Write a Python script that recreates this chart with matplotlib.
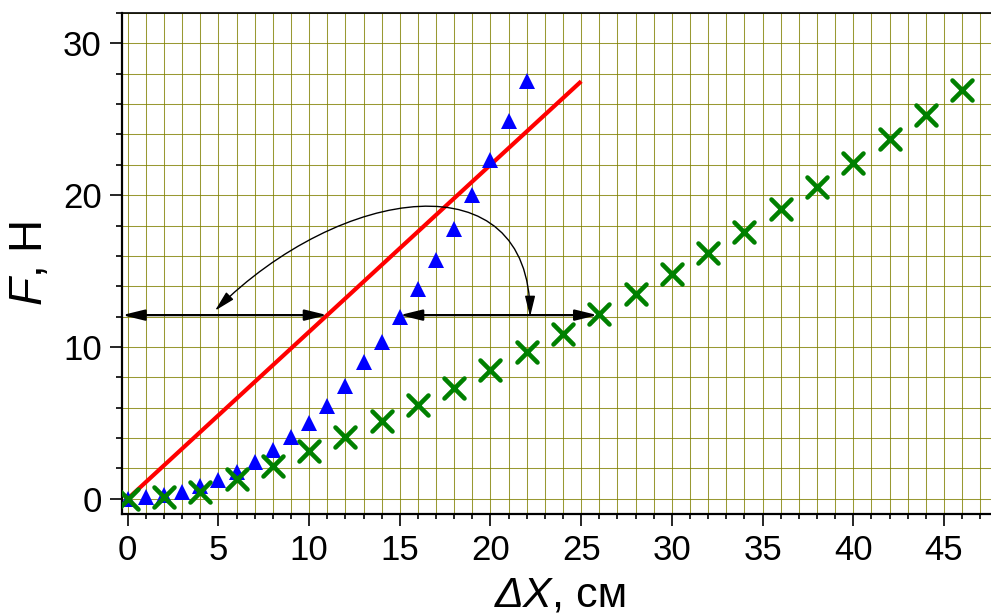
import matplotlib
matplotlib.use("Agg")
import matplotlib.pyplot as plt
import numpy as np
from matplotlib.ticker import MultipleLocator
from matplotlib.markers import MarkerStyle
from matplotlib.patches import FancyArrowPatch
from matplotlib.path import Path

plt.rcParams['font.family'] = ['Liberation Sans', 'DejaVu Sans']
plt.rcParams['mathtext.fontset'] = 'custom'
plt.rcParams['mathtext.it'] = 'Liberation Sans:italic'
plt.rcParams['mathtext.rm'] = 'Liberation Sans'

# Data
tri_x = list(range(0, 23))
tri_y = [0.0, 0.1, 0.25, 0.46, 0.84, 1.23, 1.78, 2.44, 3.2, 4.07, 5.0, 6.1, 7.4,
         9.0, 10.3, 12.0, 13.8, 15.7, 17.8, 20.0, 22.3, 24.9, 27.5]
cross_x = list(range(0, 47, 2))
cross_y = [0.0, 0.13, 0.46, 1.28, 2.15, 3.14, 4.1, 5.15, 6.18, 7.3, 8.48, 9.65,
           10.86, 12.15, 13.47, 14.8, 16.17, 17.56, 19.08, 20.57, 22.1, 23.7, 25.3, 26.94]
line_x = [0, 25]
line_y = [0, 27.5]

# annotation geometry
level = 12.1
arrow1 = (-0.3, 11.0)
arrow2 = (15.0, 25.9)
curve_pts = [(22.18, 11.99), (22.18, 22.52), (11.70, 20.61), (4.81, 12.39)]

fig = plt.figure(figsize=(9.91, 6.16), dpi=100)
ax = fig.add_axes([0.1231, 0.1656, 0.8844, 0.8133])
ax.set_xlim(-0.314, 48)
ax.set_ylim(-1.0, 32.0)

ax.xaxis.set_major_locator(MultipleLocator(5))
ax.xaxis.set_minor_locator(MultipleLocator(1))
ax.yaxis.set_major_locator(MultipleLocator(10))
ax.yaxis.set_minor_locator(MultipleLocator(2))

ax.grid(which='both', color='#808000', lw=0.75, alpha=0.8, zorder=0)
ax.set_axisbelow(True)

ax.tick_params(which='major', direction='out', length=8.5, width=1.2, labelsize=25, pad=6)
ax.tick_params(which='minor', direction='out', length=3.5, width=1.2)
ax.tick_params(axis='y', which='minor', length=4.5)
ax.tick_params(top=False, right=False)
for s in ['left', 'bottom']:
    ax.spines[s].set_linewidth(1.6)
ax.spines['top'].set_linewidth(1.2)
ax.spines['right'].set_visible(False)

ax.plot(line_x, line_y, color='#ff0000', lw=3.0, zorder=3, solid_capstyle='butt')
ax.plot(tri_x, tri_y, linestyle='none', marker='^', ms=11, color='#0000ff',
        markeredgewidth=0, zorder=4)
xm = MarkerStyle('x', capstyle='round')
ax.plot(cross_x, cross_y, linestyle='none', marker=xm, ms=15, mew=3.3,
        color='#008000', zorder=5)

astyle = '<|-|>,head_length=0.9,head_width=0.22'
for a in (arrow1, arrow2):
    ax.add_patch(FancyArrowPatch((a[0], level), (a[1], level), arrowstyle=astyle,
                                 mutation_scale=15, color='black', lw=1.6,
                                 shrinkA=0, shrinkB=0, zorder=6))
path = Path(curve_pts, [Path.MOVETO, Path.CURVE4, Path.CURVE4, Path.CURVE4])
ax.add_patch(FancyArrowPatch(path=path, arrowstyle=astyle, mutation_scale=14,
                             color='black', lw=1.0, zorder=6))

# axis labels
fig.text(552 / 991, 9 / 616, 'ΔX', fontsize=31, fontstyle='italic',
         ha='right', va='baseline')
fig.text(552 / 991, 9 / 616, ', см', fontsize=31, ha='left', va='baseline')
ax.set_ylabel(r'$\it{F}$, Н', fontsize=33, labelpad=8)

fig.savefig('out.png', dpi=100)
